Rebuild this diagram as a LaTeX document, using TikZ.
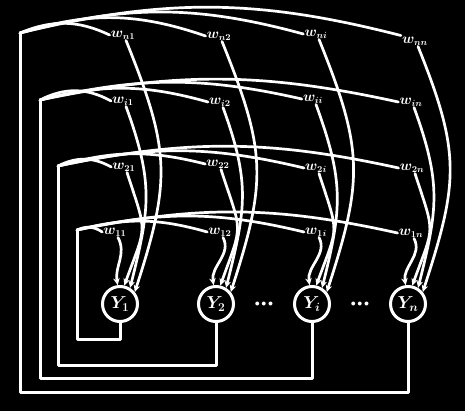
\documentclass[tikz,border=0pt]{standalone}
\usetikzlibrary{arrows.meta}
\begin{document}
\begin{tikzpicture}[x=1pt,y=1pt,color=white,
  wire/.style={line width=3pt,line join=round,line cap=round},
  fan/.style={line width=2.7pt,line cap=round},
  drop/.style={line width=2.7pt,line cap=round,-{Stealth[length=7pt,width=6.5pt]}},
  neuron/.style={circle,draw,line width=3pt,minimum size=35pt,inner sep=0pt,font=\fontsize{17}{19}\selectfont\bfseries\boldmath},
  wlab/.style={inner sep=1pt,font=\fontsize{13.5}{15}\selectfont\bfseries\boldmath},
  dotsnode/.style={inner sep=0pt,font=\normalsize},
  rowa/.style={out=-68,in=72,looseness=1.2},
  rowb/.style={out=-70,in=76,looseness=1.15},
  rowc/.style={out=-72,in=70,looseness=1.5},
  rowd/.style={out=-62,in=100,looseness=1}]
\fill[black] (0,0) rectangle (465,-411);
\useasboundingbox (0,0) rectangle (465,-411);

% neurons
\node[neuron] (Y1) at (120,-304) {$Y_1$};
\node[neuron] (Y2) at (216,-304) {$Y_2$};
\node[neuron] (Yi) at (312,-304) {$Y_i$};
\node[neuron] (Yn) at (408,-304) {$Y_n$};
\node[dotsnode] (d1) at (264,-304) {${\bullet}\,{\bullet}\,{\bullet}$};
\node[dotsnode] (d2) at (360,-304) {${\bullet}\,{\bullet}\,{\bullet}$};

% corners and bottoms
\coordinate (cn) at (20,-33);
\coordinate (ci) at (40,-100);
\coordinate (c2) at (58,-166);
\coordinate (c1) at (77,-230);
\coordinate (bn) at (20,-392);
\coordinate (bi) at (40,-378);
\coordinate (b2) at (58,-365);
\coordinate (b1) at (77,-339);

% weight labels
\node[wlab] (wn1) at (123,-35) {$w_{n1}$};
\node[wlab] (wn2) at (219,-36) {$w_{n2}$};
\node[wlab] (wni) at (316,-34) {$w_{ni}$};
\node[wlab] (wnn) at (415,-41) {$w_{nn}$};
\node[wlab] (wi1) at (123,-101) {$w_{i1}$};
\node[wlab] (wi2) at (220,-102) {$w_{i2}$};
\node[wlab] (wii) at (313,-99) {$w_{ii}$};
\node[wlab] (win) at (411,-102) {$w_{in}$};
\node[wlab] (w21) at (124,-167) {$w_{21}$};
\node[wlab] (w22) at (218,-164) {$w_{22}$};
\node[wlab] (w2i) at (316,-168) {$w_{2i}$};
\node[wlab] (w2n) at (412,-168) {$w_{2n}$};
\node[wlab] (w11) at (115,-232) {$w_{11}$};
\node[wlab] (w12) at (220,-232) {$w_{12}$};
\node[wlab] (w1i) at (316,-232) {$w_{1i}$};
\node[wlab] (w1n) at (411,-233) {$w_{1n}$};

% feedback wires
\draw[wire] (Yn.south) |- (bn) -- (cn);
\draw[wire] (Yi.south) |- (bi) -- (ci);
\draw[wire] (Y2.south) |- (b2) -- (c2);
\draw[wire] (Y1.south) |- (b1) -- (c1);

% fans
\draw[fan] (cn) to[bend left=24] (wn1.west);
\draw[fan] (cn) to[bend left=18] (wn2.west);
\draw[fan] (cn) to[bend left=15] (wni.west);
\draw[fan] (cn) to[bend left=14] (wnn.north west);
\draw[fan] (ci) to[bend left=28] (wi1.west);
\draw[fan] (ci) to[bend left=15] (wi2.west);
\draw[fan] (ci) to[bend left=13] (wii.west);
\draw[fan] (ci) to[bend left=12] (win.west);
\draw[fan] (c2) to[bend left=28] (w21.west);
\draw[fan] (c2) to[bend left=15] (w22.west);
\draw[fan] (c2) to[bend left=13] (w2i.west);
\draw[fan] (c2) to[bend left=12] (w2n.west);
\draw[fan] (c1) to[bend left=30] (w11.west);
\draw[fan] (c1) to[bend left=15] (w12.west);
\draw[fan] (c1) to[bend left=13] (w1i.west);
\draw[fan] (c1) to[bend left=12] (w1n.west);

% drops to neurons
\draw[drop] ([xshift=3pt]wn1.south) to[rowa] (Y1.39);
\draw[drop] ([xshift=3pt]wn2.south) to[rowa] (Y2.39);
\draw[drop] ([xshift=3pt]wni.south) to[rowa] (Yi.39);
\draw[drop] ([xshift=3pt]wnn.south) to[rowa] (Yn.39);
\draw[drop] ([xshift=3pt]wi1.south) to[rowb] (Y1.58);
\draw[drop] ([xshift=3pt]wi2.south) to[rowb] (Y2.58);
\draw[drop] ([xshift=3pt]wii.south) to[rowb] (Yi.58);
\draw[drop] ([xshift=3pt]win.south) to[rowb] (Yn.58);
\draw[drop] ([xshift=3pt]w21.south) to[rowc] (Y1.77);
\draw[drop] ([xshift=3pt]w22.south) to[rowc] (Y2.77);
\draw[drop] ([xshift=3pt]w2i.south) to[rowc] (Yi.77);
\draw[drop] ([xshift=3pt]w2n.south) to[rowc] (Yn.77);
\draw[drop] ([xshift=3pt]w11.south) to[rowd] (Y1.97);
\draw[drop] ([xshift=3pt]w12.south) to[rowd] (Y2.97);
\draw[drop] ([xshift=3pt]w1i.south) to[rowd] (Yi.97);
\draw[drop] ([xshift=3pt]w1n.south) to[rowd] (Yn.97);
\end{tikzpicture}
\end{document}
